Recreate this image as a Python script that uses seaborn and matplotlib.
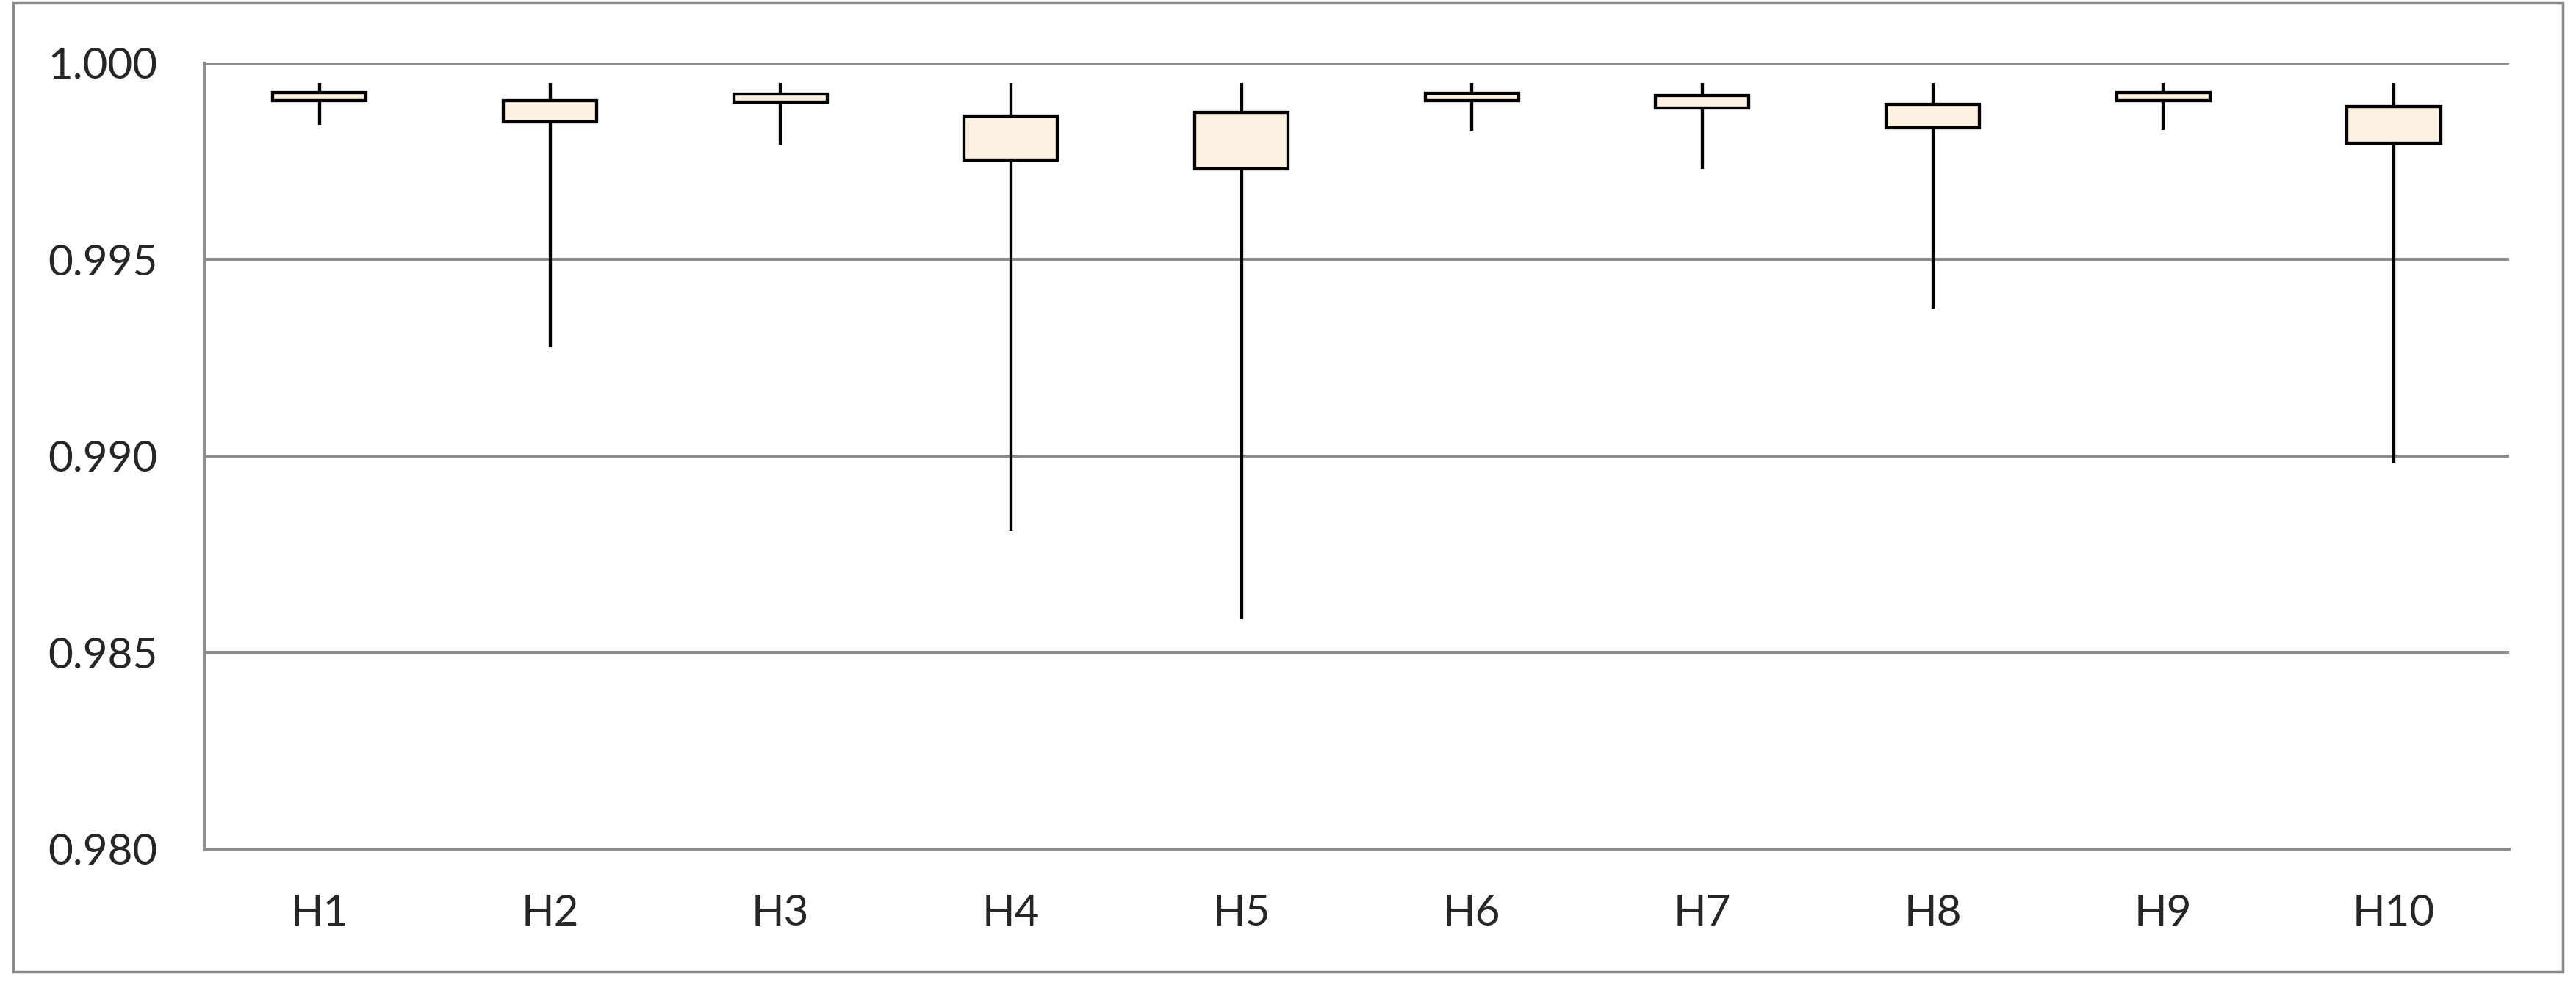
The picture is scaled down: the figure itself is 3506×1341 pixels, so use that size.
import numpy as np
import pandas as pd
import matplotlib
matplotlib.use("Agg")
import matplotlib.pyplot as plt
import matplotlib.patches as patches
import seaborn as sns

# five-number summaries (median is not drawn in the original)
groups = ["H1", "H2", "H3", "H4", "H5", "H6", "H7", "H8", "H9", "H10"]
h_min = [0.99842, 0.99277, 0.99793, 0.98810, 0.98585, 0.99827, 0.99730, 0.99376, 0.99829, 0.98983]
h_q1 = [0.99905, 0.99851, 0.99901, 0.99754, 0.99731, 0.99904, 0.99885, 0.99836, 0.99904, 0.99796]
h_q3 = [0.99926, 0.99904, 0.99922, 0.99866, 0.99875, 0.99924, 0.99917, 0.99895, 0.99926, 0.99890]
h_max = [0.9995, 0.9995, 0.9995, 0.9995, 0.9995, 0.9995, 0.9995, 0.9995, 0.9995, 0.9995]

y_ticks = [0.980, 0.985, 0.990, 0.995, 1.000]

GRAY = "#8a8a8a"
FILL = "#fdf1e1"


def main():
    # one row per summary value, so the box stats come out as read
    rows = []
    for g, mn, q1, q3, mx in zip(groups, h_min, h_q1, h_q3, h_max):
        for v in (mn, q1, q1, q3, mx):
            rows.append({"group": g, "value": v})
    df = pd.DataFrame(rows)

    sns.set_style("white")
    plt.rcParams["font.family"] = ["Lato", "DejaVu Sans"]

    fig = plt.figure(figsize=(35.06, 13.41), dpi=100)
    ax = fig.add_axes([0.0793, 0.138, 0.974 - 0.0793, 0.9359 - 0.138])

    sns.boxplot(data=df, x="group", y="value", order=groups, ax=ax,
                whis=(0, 100), width=0.405, color=FILL, linecolor="black",
                linewidth=3.1, showcaps=False, showfliers=False,
                medianprops={"linewidth": 0})
    for p in ax.patches:
        p.set_facecolor(FILL)

    ax.set_ylim(0.980, 1.000)
    ax.set_xlim(-0.5, len(groups) - 0.5)
    ax.set_yticks(y_ticks)
    ax.set_yticklabels([f"{t:.3f}" for t in y_ticks])
    ax.set_xlabel("")
    ax.set_ylabel("")

    ax.set_axisbelow(True)
    ax.yaxis.grid(True, color=GRAY, linewidth=2.8)
    ax.xaxis.grid(False)

    for side in ["top", "right"]:
        ax.spines[side].set_visible(False)
    for side in ["left", "bottom"]:
        ax.spines[side].set_color(GRAY)
        ax.spines[side].set_linewidth(2.8)

    # category boundaries get the tick marks, labels sit in between
    ax.set_xticks(np.arange(-0.5, len(groups)), minor=True)
    ax.tick_params(axis="x", which="minor", length=15, width=2.8, color=GRAY, direction="out")
    ax.tick_params(axis="x", which="major", length=0, pad=44, labelsize=42)
    ax.tick_params(axis="y", which="major", length=0, pad=46, labelsize=42)

    fig.add_artist(patches.Rectangle((0.0051, 0.0134), 0.9898, 0.9836,
                                     transform=fig.transFigure, fill=False,
                                     edgecolor=GRAY, linewidth=2.5))

    fig.savefig("out.png", dpi=100)


if __name__ == "__main__":
    main()
